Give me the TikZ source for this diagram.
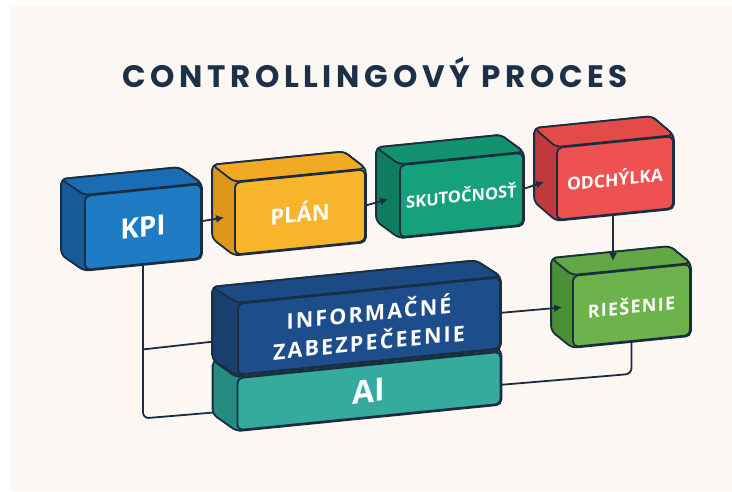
\documentclass[tikz,border=0pt]{standalone}
\usepackage{fontspec}
\usetikzlibrary{calc,arrows.meta}
\newfontfamily\titlefont[LetterSpace=15]{Poppins}
\newfontfamily\labfont{Open Sans}
\newfontfamily\labfontsp[LetterSpace=7]{Open Sans}
\newfontfamily\labfontwide[LetterSpace=10]{Open Sans}
\pgfdeclarelayer{bg}
\pgfdeclarelayer{back}
\pgfsetlayers{bg,back,main}
\definecolor{paper}{HTML}{FCF7F3}
\definecolor{ink}{HTML}{1B2D40}
\definecolor{titleink}{HTML}{1C3048}
\definecolor{kpiF}{HTML}{1F7BC3}\definecolor{kpiT}{HTML}{1B6DB3}\definecolor{kpiS}{HTML}{165A98}
\definecolor{planF}{HTML}{F8B42B}\definecolor{planT}{HTML}{F2AA22}\definecolor{planS}{HTML}{DE961C}
\definecolor{skutF}{HTML}{17A07C}\definecolor{skutT}{HTML}{139170}\definecolor{skutS}{HTML}{0F7D5F}
\definecolor{odchF}{HTML}{EF5050}\definecolor{odchT}{HTML}{E34A48}\definecolor{odchS}{HTML}{C0393D}
\definecolor{riesF}{HTML}{6BB34A}\definecolor{riesT}{HTML}{61A844}\definecolor{riesS}{HTML}{4B8F37}
\definecolor{infoF}{HTML}{1D4E8B}\definecolor{infoT}{HTML}{1C4A85}\definecolor{infoS}{HTML}{17406F}
\definecolor{aiF}{HTML}{35ABA0}\definecolor{aiT}{HTML}{30A095}\definecolor{aiS}{HTML}{268C82}
\tikzset{
  boxline/.style={draw=ink, line width=1.8pt, rounded corners=5pt, line join=round},
  face/.style={draw=ink, line width=1.8pt, rounded corners=5pt, inner sep=0pt,
    yslant=0.1, text=white, align=center},
  conn/.style={draw=ink, line width=1.8pt, line cap=round, line join=round},
  arr/.style={conn, -{Latex[length=8pt,width=8pt]}},
}
\newcommand\cubeparts[4]{%
  \begin{pgfonlayer}{back}
  \draw[boxline, fill=#2] ($(#1.north west)+(#4)$) -- ($(#1.north east)+(#4)$) -- (#1.north east)
     -- (#1.south east) -- (#1.south west) -- ($(#1.south west)+(#4)$) -- cycle;
  \draw[boxline, fill=#3] ($(#1.north west)+(#4)$) -- ($(#1.north east)+(#4)$) -- (#1.north east)
     -- (#1.north west) -- cycle;
  \end{pgfonlayer}}
\begin{document}
\begin{tikzpicture}[x=1pt,y=-1pt]
\useasboundingbox (0,0) rectangle (732,491);
\begin{pgfonlayer}{bg}
\fill[white] (0,0) rectangle (732,491);
\fill[paper] (10,6) rectangle (732,491);
\end{pgfonlayer}

\node[text=titleink, font=\titlefont\bfseries\fontsize{31}{32}\selectfont] (title) at (375,72) {CONTROLLINGOVÝ PROCES};

% front faces
\node[face, fill=kpiF, minimum width=116pt, minimum height=74pt,
  font=\labfont\bfseries\fontsize{28}{28}\selectfont] (kpi) at (143,227) {KPI};
\node[face, fill=planF, minimum width=130pt, minimum height=72pt,
  font=\labfont\bfseries\fontsize{22}{22}\selectfont] (plan) at (300,212) {PLÁN};
\node[face, fill=skutF, minimum width=123pt, minimum height=72pt,
  font=\labfont\bfseries\fontsize{16.5}{17}\selectfont] (skut) at (461.5,195) {SKUTOČNOSŤ};
\node[face, fill=odchF, minimum width=116pt, minimum height=72pt,
  font=\labfont\bfseries\fontsize{17.5}{18}\selectfont] (odch) at (615,178) {ODCHÝLKA};
\node[face, fill=riesF, minimum width=117pt, minimum height=71pt,
  font=\labfontsp\bfseries\fontsize{18}{18}\selectfont] (ries) at (631.5,305.5) {RIEŠENIE};
\node[face, fill=aiF, minimum width=263pt, minimum height=52pt,
  font=\labfont\bfseries\fontsize{32}{32}\selectfont] (ai) at (369,391) {AI};
\node[face, fill=infoF, minimum width=262pt, minimum height=71pt,
  font=\labfontwide\bfseries\fontsize{21.5}{29}\selectfont] (info) at (369,326) {INFORMAČNÉ\\ZABEZPEČEENIE};

% 3D parts
\cubeparts{kpi}{kpiS}{kpiT}{-23,-16}
\cubeparts{plan}{planS}{planT}{-22,-17}
\cubeparts{skut}{skutS}{skutT}{-23,-17}
\cubeparts{odch}{odchS}{odchT}{-22,-19}
\cubeparts{ries}{riesS}{riesT}{-21,-17}
\cubeparts{ai}{aiS}{aiT}{-24,-17}
\cubeparts{info}{infoS}{infoT}{-25,-16}

% plain connectors (behind boxes)
\begin{pgfonlayer}{bg}
\draw[conn, rounded corners=6pt] (kpi.south) -- ($(kpi.south)+(0,153.5)$) -- ($(ai.west)+(-20,8)$);
\draw[conn] ($(kpi.south)+(0,84.5)$) -- ($(info.west)+(-20,2)$);
\draw[conn, rounded corners=6pt] ($(ai.east)+(0,7)$) -- ($(ries.south)+(0,32)$) -- (ries.south);
\end{pgfonlayer}

% arrows
\draw[arr] (kpi.east) -- ($(plan.west)+(-10,-1)$);
\draw[arr] (plan.east) -- ($(skut.west)+(-11,-2)$);
\draw[arr] (skut.east) -- ($(odch.west)+(-12,-2)$);
\coordinate (riestop) at ($(ries.north)+(-18.5,-8)$);
\draw[arr] (odch.south -| riestop) -- (riestop);
\draw[arr] (info.east) -- ($(ries.west)+(-10,-4)$);
\end{tikzpicture}
\end{document}
